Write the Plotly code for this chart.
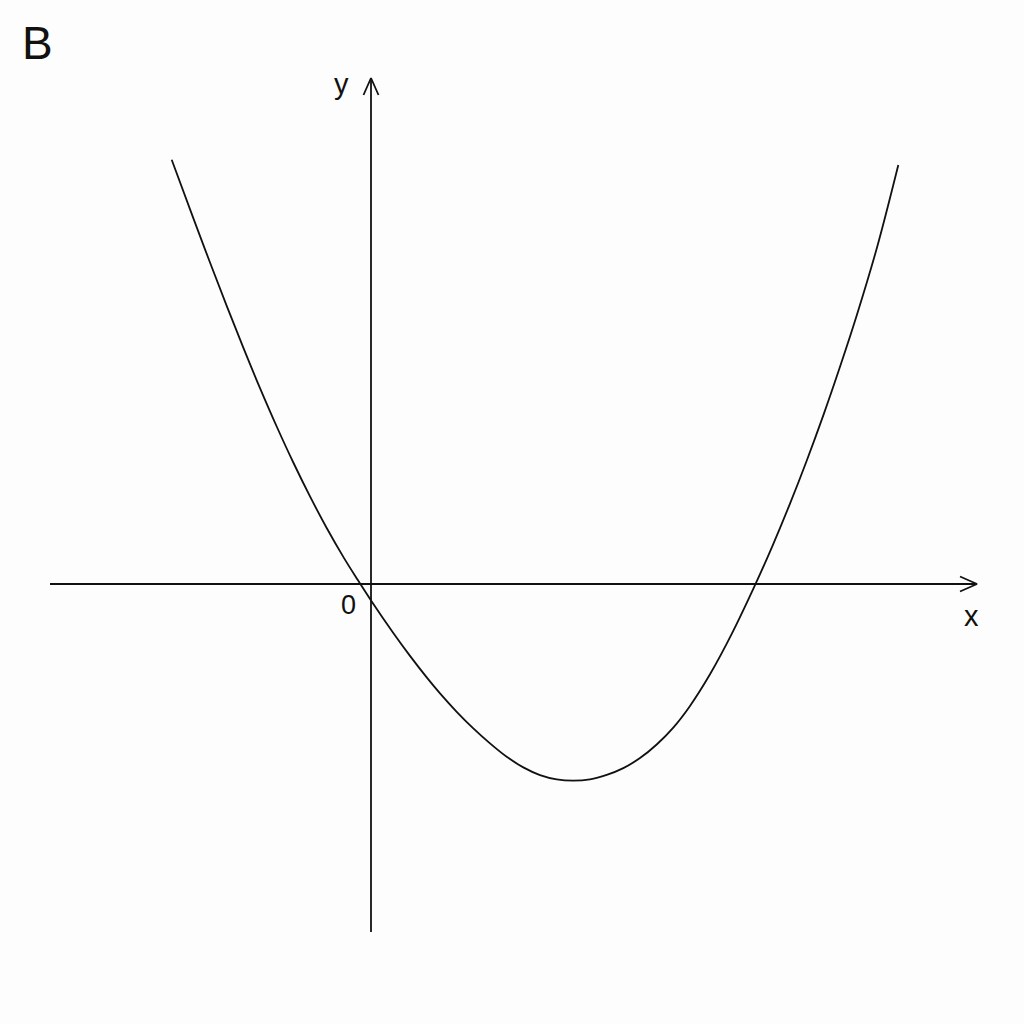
import plotly.graph_objects as go

# Curve (data units: origin at the axes crossing)
curve_x = [-1.993, -1.777, -1.610, -1.443, -1.277, -1.110, -0.943, -0.777, -0.610, -0.443,
           -0.277, -0.135, 0.007, 0.223, 0.390, 0.557, 0.690, 0.857, 1.023, 1.190,
           1.357, 1.523, 1.690, 1.857, 2.023, 2.190, 2.357, 2.523, 2.690, 2.857,
           3.023, 3.190, 3.390, 3.610, 3.840, 4.015, 4.190, 4.357, 4.523, 4.690,
           4.857, 5.060, 5.273]
curve_y = [4.242, 3.659, 3.215, 2.781, 2.363, 1.959, 1.575, 1.215, 0.876, 0.560,
           0.271, 0.044, -0.175, -0.490, -0.719, -0.934, -1.094, -1.278, -1.444, -1.594,
           -1.728, -1.834, -1.911, -1.954, -1.967, -1.954, -1.909, -1.841, -1.741, -1.605,
           -1.436, -1.219, -0.903, -0.494, -0.012, 0.382, 0.804, 1.233, 1.686, 2.172,
           2.685, 3.365, 4.190]

# Axis extents
x_axis_span = [-3.21, 6.06]
y_axis_span = [-3.48, 5.06]
arrow_len = 0.17
arrow_half = 0.075

fig = go.Figure()

ink = "#111111"
line_style = dict(color=ink, width=1.8)

# x axis
fig.add_trace(go.Scatter(x=x_axis_span, y=[0, 0], mode="lines", line=line_style, hoverinfo="skip"))
fig.add_trace(go.Scatter(x=[x_axis_span[1] - arrow_len, x_axis_span[1], x_axis_span[1] - arrow_len],
                         y=[arrow_half, 0, -arrow_half], mode="lines", line=line_style, hoverinfo="skip"))
# y axis
fig.add_trace(go.Scatter(x=[0, 0], y=y_axis_span, mode="lines", line=line_style, hoverinfo="skip"))
fig.add_trace(go.Scatter(x=[-arrow_half, 0, arrow_half],
                         y=[y_axis_span[1] - arrow_len, y_axis_span[1], y_axis_span[1] - arrow_len],
                         mode="lines", line=line_style, hoverinfo="skip"))
# curve
fig.add_trace(go.Scatter(x=curve_x, y=curve_y, mode="lines",
                         line=dict(color=ink, width=1.8, shape="spline", smoothing=1.0),
                         hoverinfo="skip"))

font = dict(family="Liberation Sans, Arial, sans-serif", color=ink)
common = dict(showarrow=False, xanchor="center", yanchor="middle")
fig.add_annotation(x=-0.23, y=-0.21, text="0", font=dict(size=27, **font), **common)
fig.add_annotation(x=6.0, y=-0.32, text="x", font=dict(size=29, **font), **common)
fig.add_annotation(x=-0.30, y=5.0, text="y", font=dict(size=29, **font), **common)
fig.add_annotation(xref="paper", yref="paper", x=0.037, y=0.958, text="B",
                   font=dict(size=46, **font), **common)

fig.update_layout(
    width=1024, height=1024,
    margin=dict(l=0, r=0, t=0, b=0),
    paper_bgcolor="#fdfdfd", plot_bgcolor="#fdfdfd",
    showlegend=False,
    xaxis=dict(range=[-3.71, 6.53], visible=False, fixedrange=True),
    yaxis=dict(range=[-4.40, 5.84], visible=False, fixedrange=True),
)

fig.write_html("out.html", config={"displayModeBar": False},
               post_script="document.body.style.margin='0';")
